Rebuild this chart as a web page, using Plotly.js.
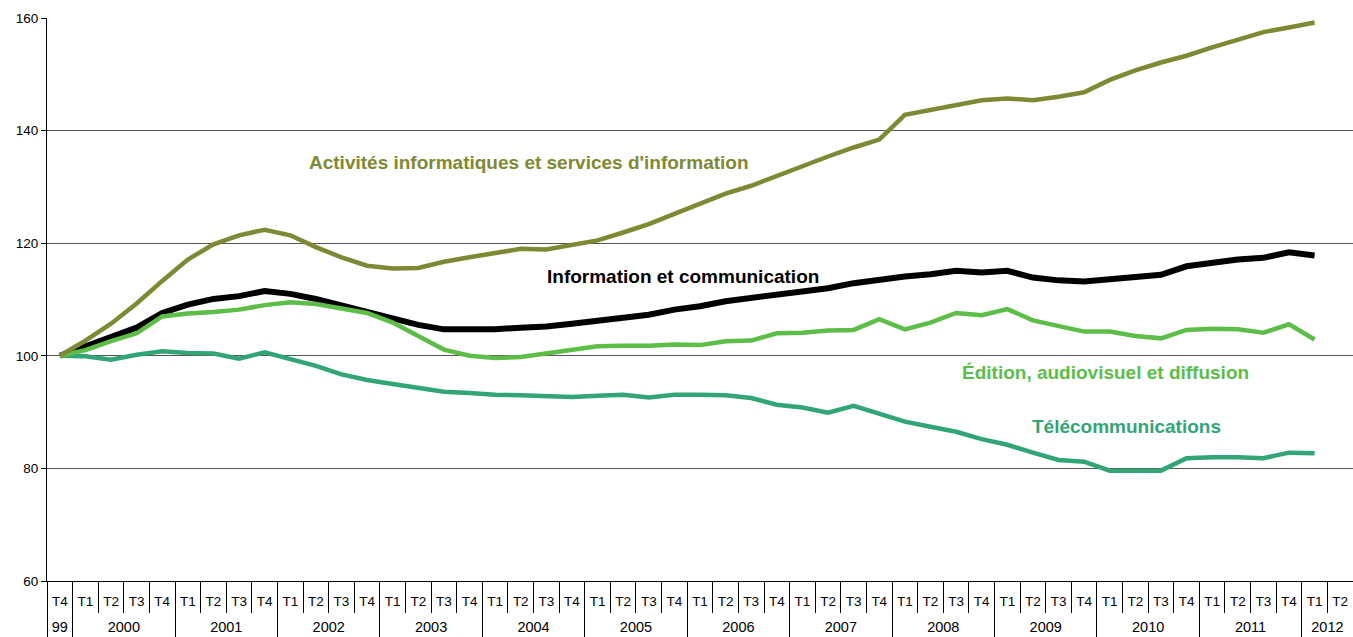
<!DOCTYPE html>
<html>
<head>
<meta charset="utf-8">
<script src="https://cdn.plot.ly/plotly-3.0.1.min.js"></script>
<style>html,body{margin:0;padding:0;background:#fff}#chart{width:1353px;height:637px}</style>
</head>
<body>
<div id="chart"></div>
<script>
// Category levels (quarters, grouped by year)
const quarters = ["T4","T1","T2","T3","T4","T1","T2","T3","T4","T1","T2","T3","T4",
  "T1","T2","T3","T4","T1","T2","T3","T4","T1","T2","T3","T4",
  "T1","T2","T3","T4","T1","T2","T3","T4","T1","T2","T3","T4",
  "T1","T2","T3","T4","T1","T2","T3","T4","T1","T2","T3","T4","T1","T2"];
const yearLabels = ["99","2000","2001","2002","2003","2004","2005","2006","2007","2008","2009","2010","2011","2012"];
const quartersPerYear = [1,4,4,4,4,4,4,4,4,4,4,4,4,2];

// Series (index base 100 = T4 1999); last slot (T2 2012) has no value
const activites = [100,102.7,105.7,109.3,113.3,117.1,119.8,121.4,122.4,121.4,119.3,117.5,116.0,
  115.5,115.6,116.7,117.5,118.3,119.0,118.9,119.6,120.5,121.9,123.4,125.2,
  126.9,128.8,130.2,132.0,133.6,135.4,137.0,138.4,142.8,143.6,144.6,145.4,
  145.7,145.4,146.0,146.8,149.0,150.7,152.1,153.3,154.8,156.2,157.5,158.3,159.2,null];
const infocom = [100,101.6,103.3,105.0,107.6,109.1,110.1,110.6,111.5,111.0,110.1,108.9,107.7,
  106.6,105.5,104.7,104.6,104.7,105.0,105.2,105.7,106.2,106.8,107.3,108.2,
  108.8,109.7,110.3,110.9,111.5,112.0,112.9,113.6,114.1,114.5,115.1,114.8,
  115.1,113.9,113.4,113.2,113.6,114.0,114.4,115.9,116.6,117.1,117.4,118.4,117.8,null];
const edition = [100,101.0,102.6,104.0,107.0,107.5,107.8,108.2,109.0,109.5,109.2,108.3,107.6,
  105.9,103.4,101.1,100.0,99.6,99.8,100.5,101.0,101.7,101.8,101.8,102.0,
  101.9,102.6,102.7,104.0,104.1,104.5,104.6,106.5,104.7,105.9,107.6,107.2,
  108.3,106.3,105.4,104.3,104.3,103.5,103.1,104.6,104.8,104.7,104.1,105.6,102.9,null];
const telecom = [100,99.9,99.3,100.2,100.8,100.5,100.4,99.5,100.6,99.5,98.2,96.7,95.7,
  95.0,94.3,93.6,93.4,93.1,93.0,92.8,92.7,92.9,93.1,92.6,93.1,
  93.1,93.0,92.5,91.3,90.8,89.9,91.1,89.8,88.3,87.4,86.5,85.2,
  84.2,82.8,81.5,81.2,79.6,79.6,79.6,81.8,82.0,82.0,81.8,82.8,82.7,null];

const seriesNames = ["Activités informatiques et services d'information","Information et communication",
  "Édition, audiovisuel et diffusion","Télécommunications"];
const yTicks = [60,80,100,120,140,160];

// derived positions on the category scale
const xIdx = quarters.map((_, i) => i);
const yearStart = [], yearCenter = [];
quartersPerYear.reduce((acc, n) => { yearStart.push(acc - 0.5); yearCenter.push(acc + (n - 1) / 2); return acc + n; }, 0);

const C_OLIVE = "#7f8833", C_BLACK = "#000000", C_GREEN = "#5cbd47", C_TEAL = "#32a577";

const mk = (y, name, color, w) => ({x: xIdx, y: y, name: name, type: "scatter", mode: "lines",
  line: {color: color, width: w}, connectgaps: false, hoverinfo: "y"});

const data = [
  mk(infocom, seriesNames[1], C_BLACK, 6),
  mk(telecom, seriesNames[3], C_TEAL, 4.5),
  mk(edition, seriesNames[2], C_GREEN, 4.5),
  mk(activites, seriesNames[0], C_OLIVE, 4.5),
  {x: [xIdx[0]], y: [null], xaxis: "x2", yaxis: "y", type: "scatter", mode: "lines", hoverinfo: "skip", showlegend: false}
];

const F = "Liberation Sans, Arial, Helvetica, sans-serif";
const ann = (t, xp, yp, color) => ({text: "<b>" + t + "</b>", xref: "paper", yref: "paper", x: xp, y: yp,
  xanchor: "left", yanchor: "middle", showarrow: false, font: {family: F, size: 19, color: color}});

const xRange = [-0.5, quarters.length - 0.5];

const layout = {
  width: 1353, height: 637,
  margin: {l: 47, r: 0, t: 18, b: 56},
  paper_bgcolor: "#fff", plot_bgcolor: "#fff",
  showlegend: false,
  font: {family: F, size: 14, color: "#000"},
  xaxis: {
    range: xRange, tickmode: "array", tickvals: xIdx, ticktext: quarters,
    showline: true, linecolor: "#000", linewidth: 1,
    ticks: "", ticklabelstandoff: 8,
    minor: {ticks: "outside", tickmode: "linear", tick0: -0.5, dtick: 1, ticklen: 31, tickcolor: "#000", tickwidth: 1, showgrid: false},
    tickfont: {family: F, size: 13.5, color: "#000"},
    showgrid: false, zeroline: false, fixedrange: true
  },
  xaxis2: {
    overlaying: "x", anchor: "y", side: "bottom", matches: "x",
    range: xRange, tickmode: "array", tickvals: yearCenter, ticktext: yearLabels,
    showline: false, ticks: "", ticklabelstandoff: 35,
    minor: {ticks: "outside", tickmode: "array", tickvals: yearStart, ticklen: 60, tickcolor: "#000", tickwidth: 1, showgrid: false},
    tickfont: {family: F, size: 14.5, color: "#000"},
    showgrid: false, zeroline: false, fixedrange: true
  },
  yaxis: {
    range: [60, 160], tickvals: yTicks, ticktext: yTicks.map(String),
    showline: true, linecolor: "#000", linewidth: 1,
    ticks: "outside", ticklen: 5, tickcolor: "#000",
    showgrid: true, gridcolor: "#555", gridwidth: 1,
    zeroline: false, tickfont: {family: F, size: 13.5, color: "#000"}, fixedrange: true
  },
  annotations: [
    ann(seriesNames[0], 0.1991, 0.7425, C_OLIVE),
    ann(seriesNames[1], 0.3813, 0.540, C_BLACK),
    ann(seriesNames[2], 0.699, 0.3712, C_GREEN),
    ann(seriesNames[3], 0.7527, 0.2753, C_TEAL)
  ]
};

Plotly.newPlot("chart", data, layout, {displayModeBar: false, responsive: false});
</script>
</body>
</html>
